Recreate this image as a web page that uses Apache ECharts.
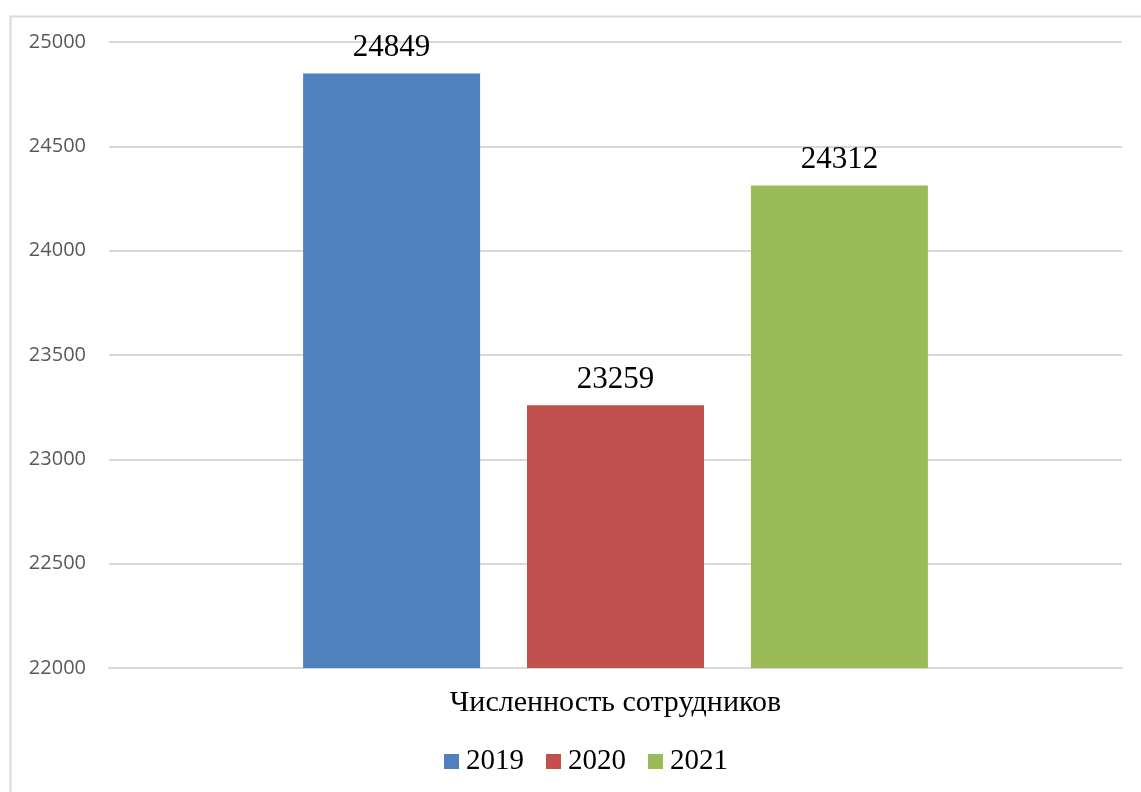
<!DOCTYPE html>
<html><head><meta charset="utf-8">
<script src="https://cdn.jsdelivr.net/npm/echarts@6/dist/echarts.min.js"></script>
<style>html,body{margin:0;padding:0;background:#fff}#c{width:1141px;height:792px}</style>
</head><body><div id="c"></div>
<script>
const categories = ['Численность сотрудников'];
const seriesNames = ['2019', '2020', '2021'];
const values2019 = [24849];
const values2020 = [23259];
const values2021 = [24312];
const colors = ['#4F81BD', '#C0504D', '#9BBB59'];
const serif = '"Liberation Serif","Times New Roman",serif';
const chart = echarts.init(document.getElementById('c'));
const allValues = [values2019, values2020, values2021];
chart.setOption({
  animation: false,
  graphic: [{type:'rect', left:8, top:14, shape:{width:1200, height:900}, style:{fill:'none', stroke:'#d9d9d9', lineWidth:2}, silent:true}],
  grid: {left:109, right:19, top:42, bottom:124, containLabel:false},
  legend: {
    bottom: 11, left: 439, itemWidth: 15, itemHeight: 15, itemGap: 22,
    icon: 'rect',
    textStyle: {fontFamily: serif, fontSize: 29, color: '#000', padding:[0,0,0,2]},
    data: seriesNames
  },
  xAxis: {
    type: 'category', data: categories,
    axisLine: {show:true, lineStyle:{color:'#d9d9d9', width:2}},
    axisTick: {show:false},
    axisLabel: {fontFamily: serif, fontSize: 30, color:'#000', margin: 20}
  },
  yAxis: {
    type: 'value', min: 22000, max: 25000, interval: 500,
    axisLine: {show:false}, axisTick:{show:false},
    splitLine: {lineStyle:{color:'#d9d9d9', width:2}},
    axisLabel: {fontFamily:'"Open Sans","Noto Sans",sans-serif', fontSize: 20, color:'#595959', margin: 23, formatter: v => String(v)}
  },
  series: seriesNames.map((n,i)=>({
    name: n, type:'bar', data: allValues[i], barWidth: 177, barGap: '26.5%',
    itemStyle: {color: colors[i]},
    label: {show:true, position:'top', distance: 10, fontFamily: serif, fontSize: 31, color:'#000'}
  }))
});
</script></body></html>
